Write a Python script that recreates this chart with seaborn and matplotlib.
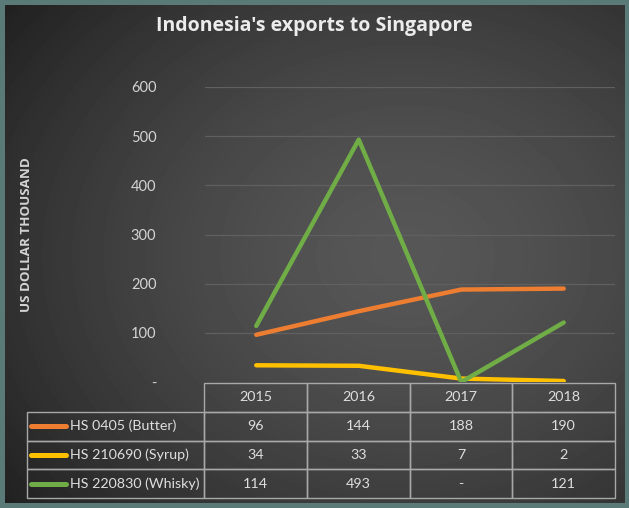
import numpy as np
import pandas as pd
import matplotlib
matplotlib.use('Agg')
import matplotlib.pyplot as plt
import seaborn as sns
from matplotlib.table import Table

# data (US$ thousand)
years = ['2015', '2016', '2017', '2018']
series_names = ['HS 0405 (Butter)', 'HS 210690 (Syrup)', 'HS 220830 (Whisky)']
butter = [96, 144, 188, 190]
syrup = [34, 33, 7, 2]
whisky = [114, 493, 0, 121]
whisky_labels = ['114', '493', '-', '121']
y_ticks = [0, 100, 200, 300, 400, 500, 600]
y_tick_labels = ['-', '100', '200', '300', '400', '500', '600']
colors = ['#ED7D31', '#FFC000', '#70AD47']

df = pd.DataFrame({
    'Year': years * 3,
    'Value': butter + syrup + whisky,
    'Series': [s for s in series_names for _ in years],
})

sns.set_theme(style='dark')
plt.rcParams['font.family'] = ['Lato', 'DejaVu Sans']

W, H = 629, 508
fig = plt.figure(figsize=(W / 100, H / 100), dpi=100)
fig.patch.set_facecolor('#5a7a77')

# dark radial gradient background
bg = fig.add_axes([5 / W, 5 / H, 620 / W, 498 / H])
yy, xx = np.mgrid[0:498, 0:620]
d = np.sqrt(((xx - 400) / 470) ** 2 + ((yy - 250) / 380) ** 2)
shade = 0.34 - 0.19 * np.clip(d, 0, 1.2) ** 1.5
bg.imshow(shade, cmap='gray', vmin=0, vmax=1, aspect='auto', interpolation='bilinear')
bg.axis('off')

ax = fig.add_axes([205 / W, 1 - 382 / H, 410 / W, 295 / H])
ax.set_facecolor('none')
sns.lineplot(data=df, x='Year', y='Value', hue='Series', palette=colors,
             linewidth=3.2, ax=ax, legend=False, sort=False)
ax.set_xlim(-0.5, 3.5)
ax.set_ylim(0, 600)
ax.set_yticks(y_ticks)
ax.set_yticklabels(y_tick_labels, fontsize=10.5, color='#d4d4d4')
ax.tick_params(axis='y', length=0, pad=35)
ax.set_xticks([])
ax.set_xlabel('')
ax.set_ylabel('')
ax.grid(axis='y', color='#606060', linewidth=0.9)
ax.grid(axis='x', visible=False)
for sp in ax.spines.values():
    sp.set_visible(False)
# no gridline at zero, the table border sits there
ax.get_ygridlines()[0].set_visible(False)

# data table under the plot: column 0 holds the series names
tbl = Table(ax, bbox=[(27 - 205) / 410, -116 / 295, 588 / 410, 115 / 295])
label_w = 177 / 410
cell_text = [[str(v) for v in butter], [str(v) for v in syrup], whisky_labels]
head = tbl.add_cell(0, 0, width=label_w, height=1.0, text='')
head.visible_edges = ''
for j, yr in enumerate(years):
    tbl.add_cell(0, j + 1, width=0.25, height=1.0, text=yr, loc='center')
for i, name in enumerate(series_names):
    c = tbl.add_cell(i + 1, 0, width=label_w, height=1.0, text=name, loc='left')
    c.PAD = 0.245
    for j in range(len(years)):
        tbl.add_cell(i + 1, j + 1, width=0.25, height=1.0, text=cell_text[i][j], loc='center')
tbl.auto_set_font_size(False)
for cell in tbl.get_celld().values():
    cell.set_edgecolor('#a8a8a8')
    cell.set_facecolor('none')
    cell.set_linewidth(1.0)
    cell.get_text().set_color('#dedede')
    cell.get_text().set_fontsize(10.3)
ax.add_table(tbl)

# legend keys inside the label cells
for i, col in enumerate(colors):
    yc = (382 - (411 + 29 * i + 14.5)) / 295
    ax.plot([(31 - 205) / 410, (66 - 205) / 410], [yc, yc], color=col, linewidth=3.6,
            transform=ax.transAxes, clip_on=False, solid_capstyle='round')

fig.text(314 / W, 1 - 26 / H, "Indonesia's exports to Singapore", ha='center', va='center',
         fontsize=14, fontweight='bold', color='#ececec', family=['Open Sans', 'DejaVu Sans'])
fig.text(27 / W, 1 - 235 / H, 'US DOLLAR THOUSAND', ha='center', va='center', rotation=90,
         fontsize=9.6, fontweight='bold', color='#d4d4d4', family=['Open Sans', 'DejaVu Sans'])

fig.savefig('out.png', dpi=100, facecolor=fig.get_facecolor())
